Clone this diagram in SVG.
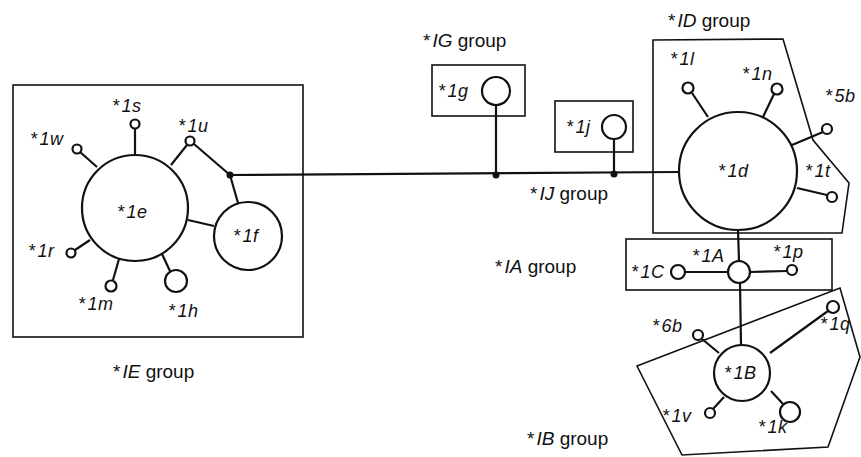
<svg xmlns="http://www.w3.org/2000/svg" width="861" height="457" viewBox="0 0 861 457">
<style>
  .bg{fill:#fff}
  .box{fill:none;stroke:#111;stroke-width:1.6}
  .c{fill:#fff;stroke:#111;stroke-width:2.2}
  .ln{stroke:#111;stroke-width:2.2;fill:none}
  .dot{fill:#111}
  .lab{font-family:"Liberation Sans",Arial,sans-serif;font-size:18px;font-style:italic;fill:#111;letter-spacing:0.5px}
  .grp{font-family:"Liberation Sans",Arial,sans-serif;font-size:19px;fill:#111}
  .it{font-style:italic}
</style>
<rect class="bg" width="861" height="457"/>

<g id="groups">
  <g id="IE-group"><rect class="box" x="13" y="85" width="290" height="252"/><text class="grp" x="113" y="378">*<tspan class="it" dx="2">IE</tspan> group</text></g>
  <g id="IG-group"><rect class="box" x="432" y="65" width="93" height="51"/><text class="grp" x="423" y="47">*<tspan class="it" dx="2">IG</tspan> group</text></g>
  <g id="IJ-group"><rect class="box" x="555" y="101" width="78" height="51"/><text class="grp" x="530" y="200">*<tspan class="it" dx="2">IJ</tspan> group</text></g>
  <g id="ID-group"><polygon class="box" points="653,40 783,39 813,140 849,183 842,233 653,233"/><text class="grp" x="668" y="27">*<tspan class="it" dx="2">ID</tspan> group</text></g>
  <g id="IA-group"><rect class="box" x="626" y="239" width="206" height="51"/><text class="grp" x="495" y="273">*<tspan class="it" dx="2">IA</tspan> group</text></g>
  <g id="IB-group"><polygon class="box" points="637,366 840,288 860,357 828,447 682,455"/><text class="grp" x="527" y="445">*<tspan class="it" dx="2">IB</tspan> group</text></g>
</g>

<g id="connectors">
  <line class="ln" x1="230" y1="175" x2="679" y2="172"/>
  <line class="ln" x1="135" y1="128" x2="135" y2="155"/>
  <line class="ln" x1="80" y1="152" x2="97" y2="167"/>
  <line class="ln" x1="75" y1="250" x2="90" y2="240"/>
  <line class="ln" x1="119" y1="259" x2="113" y2="280"/>
  <line class="ln" x1="162" y1="254" x2="170" y2="271"/>
  <line class="ln" x1="171" y1="165" x2="187" y2="145"/>
  <polyline class="ln" points="194,144 230,175 238,203"/>
  <line class="ln" x1="188" y1="220" x2="214" y2="226"/>
  <line class="ln" x1="496" y1="106" x2="496" y2="175"/>
  <line class="ln" x1="614" y1="140" x2="614" y2="174"/>
  <line class="ln" x1="692" y1="93" x2="708" y2="117"/>
  <line class="ln" x1="774" y1="94" x2="763" y2="117"/>
  <line class="ln" x1="792" y1="145" x2="823" y2="132"/>
  <line class="ln" x1="797" y1="188" x2="827" y2="195"/>
  <line class="ln" x1="738" y1="230" x2="739" y2="261"/>
  <line class="ln" x1="685" y1="272" x2="728" y2="272"/>
  <line class="ln" x1="750" y1="272" x2="787" y2="271"/>
  <line class="ln" x1="740" y1="283" x2="741" y2="345"/>
  <line class="ln" x1="770" y1="353" x2="828" y2="311"/>
  <line class="ln" x1="702" y1="339" x2="719" y2="353"/>
  <line class="ln" x1="713" y1="409" x2="724" y2="397"/>
  <line class="ln" x1="771" y1="391" x2="783" y2="404"/>
  <circle class="dot" cx="230" cy="175" r="3.5"/>
  <circle class="dot" cx="496" cy="175" r="3.5"/>
  <circle class="dot" cx="614" cy="174" r="3.5"/>
</g>

<g id="n1e"><circle class="c" cx="135" cy="208" r="53"/><text class="lab" x="117" y="218">*<tspan dx="2">1e</tspan></text></g>
<g id="n1f"><circle class="c" cx="248" cy="236" r="34"/><text class="lab" x="233" y="242">*<tspan dx="2">1f</tspan></text></g>
<g id="n1s"><circle class="c" cx="135" cy="124" r="4.5"/><text class="lab" x="112" y="112">*<tspan dx="2">1s</tspan></text></g>
<g id="n1u"><circle class="c" cx="190" cy="141" r="4.5"/><text class="lab" x="178" y="132">*<tspan dx="2">1u</tspan></text></g>
<g id="n1w"><circle class="c" cx="77" cy="149" r="4.5"/><text class="lab" x="30" y="145">*<tspan dx="2">1w</tspan></text></g>
<g id="n1r"><circle class="c" cx="71" cy="253" r="4.5"/><text class="lab" x="28" y="257">*<tspan dx="2">1r</tspan></text></g>
<g id="n1m"><circle class="c" cx="111" cy="286" r="5.5"/><text class="lab" x="78" y="310">*<tspan dx="2">1m</tspan></text></g>
<g id="n1h"><circle class="c" cx="176" cy="281" r="11"/><text class="lab" x="168" y="317">*<tspan dx="2">1h</tspan></text></g>
<g id="n1g"><circle class="c" cx="496" cy="91" r="14"/><text class="lab" x="438" y="97">*<tspan dx="2">1g</tspan></text></g>
<g id="n1j"><circle class="c" cx="614" cy="127" r="12"/><text class="lab" x="566" y="133">*<tspan dx="2">1j</tspan></text></g>
<g id="n1d"><circle class="c" cx="738" cy="171" r="59"/><text class="lab" x="718" y="177">*<tspan dx="2">1d</tspan></text></g>
<g id="n1l"><circle class="c" cx="688" cy="88" r="5.5"/><text class="lab" x="670" y="65">*<tspan dx="2">1l</tspan></text></g>
<g id="n1n"><circle class="c" cx="777" cy="89" r="5.5"/><text class="lab" x="742" y="80">*<tspan dx="2">1n</tspan></text></g>
<g id="n5b"><circle class="c" cx="827" cy="129" r="5"/><text class="lab" x="825" y="102">*<tspan dx="2">5b</tspan></text></g>
<g id="n1t"><circle class="c" cx="832" cy="197" r="5"/><text class="lab" x="805" y="177">*<tspan dx="2">1t</tspan></text></g>
<g id="n1A"><circle class="c" cx="739" cy="272" r="11"/><text class="lab" x="692" y="262">*<tspan dx="2">1A</tspan></text></g>
<g id="n1C"><circle class="c" cx="678" cy="272" r="7"/><text class="lab" x="631" y="278">*<tspan dx="2">1C</tspan></text></g>
<g id="n1p"><circle class="c" cx="792" cy="270" r="5"/><text class="lab" x="773" y="258">*<tspan dx="2">1p</tspan></text></g>
<g id="n1B"><circle class="c" cx="742" cy="373" r="28"/><text class="lab" x="724" y="379">*<tspan dx="2">1B</tspan></text></g>
<g id="n1q"><circle class="c" cx="833" cy="307" r="6"/><text class="lab" x="820" y="330">*<tspan dx="2">1q</tspan></text></g>
<g id="n6b"><circle class="c" cx="698" cy="335" r="5"/><text class="lab" x="652" y="332">*<tspan dx="2">6b</tspan></text></g>
<g id="n1v"><circle class="c" cx="710" cy="413" r="5"/><text class="lab" x="662" y="422">*<tspan dx="2">1v</tspan></text></g>
<g id="n1k"><circle class="c" cx="790" cy="412" r="10"/><text class="lab" x="758" y="433">*<tspan dx="2">1k</tspan></text></g>
</svg>
